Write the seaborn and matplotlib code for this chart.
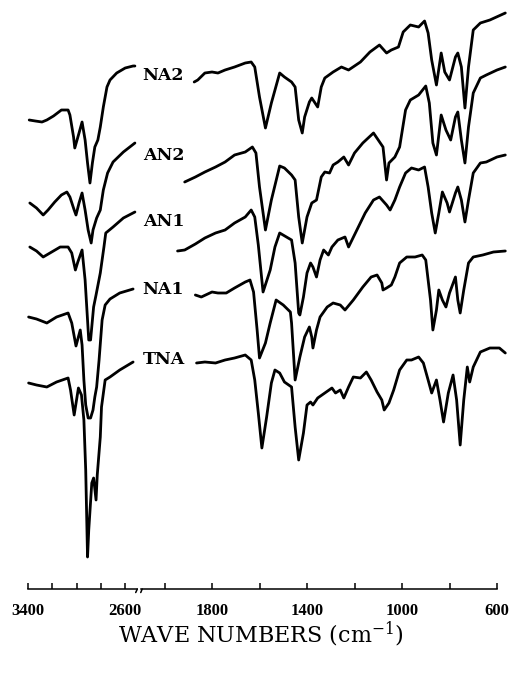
import matplotlib
matplotlib.use("Agg")
import matplotlib.pyplot as plt
import pandas as pd
import seaborn as sns

# Stacked IR spectra (transmittance, arbitrary offset units), top to bottom
samples = ["NA2", "AN2", "AN1", "NA1", "TNA"]
label_level = [514, 434, 367, 299, 229]

# ---- C-H stretching region (3400-2500 cm-1) ----
na2_ch_wn = [3390, 3340, 3285, 3245, 3190, 3125, 3070, 3055, 3025, 3015, 2980, 2955, 2930,
             2910, 2890, 2870, 2850, 2825, 2805, 2780, 2750, 2725, 2670, 2600, 2535, 2520]
na2_ch_t = [469, 468, 467, 469, 473, 479, 479, 474, 452, 441, 456, 467, 449,
            426, 406, 426, 442, 449, 462, 482, 502, 509, 516, 521, 523, 523]

an2_ch_wn = [3385, 3330, 3275, 3235, 3180, 3125, 3080, 3055, 3020, 3005, 2980, 2955,
             2930, 2905, 2880, 2865, 2835, 2805, 2780, 2745, 2700, 2615, 2520]
an2_ch_t = [386, 381, 374, 379, 387, 394, 397, 392, 379, 374, 386, 396,
            379, 359, 346, 359, 371, 379, 399, 416, 427, 437, 446]

an1_ch_wn = [3385, 3330, 3275, 3205, 3135, 3070, 3040, 3010, 2990, 2955, 2930,
             2900, 2885, 2860, 2840, 2805, 2775, 2760, 2700, 2615, 2520]
an1_ch_t = [342, 338, 332, 337, 342, 342, 336, 319, 327, 339, 309,
            249, 249, 282, 294, 316, 342, 356, 362, 371, 377]

na1_ch_wn = [3395, 3330, 3245, 3165, 3070, 3040, 3005, 2970, 2955, 2940, 2925,
             2905, 2885, 2865, 2850, 2835, 2815, 2790, 2765, 2725, 2645, 2535]
na1_ch_t = [272, 270, 266, 272, 276, 266, 243, 259, 244, 209, 184,
            171, 171, 179, 192, 202, 229, 269, 284, 290, 296, 300]

tna_ch_wn = [3395, 3330, 3245, 3165, 3070, 3050, 3020, 2985, 2960, 2940, 2925, 2910,
             2900, 2875, 2860, 2840, 2830, 2805, 2795, 2765, 2725, 2645, 2535]
tna_ch_t = [206, 204, 202, 207, 211, 199, 174, 201, 194, 169, 119, 32,
            59, 106, 111, 89, 114, 152, 182, 209, 212, 219, 227]

# ---- fingerprint region (2100-600 cm-1) ----
na2_fp_wn = [1875, 1860, 1830, 1800, 1775, 1745, 1705, 1660, 1635, 1620,
             1600, 1575, 1550, 1515, 1495, 1465, 1450, 1435, 1420, 1410,
             1390, 1380, 1355, 1340, 1325, 1290, 1255, 1225, 1175, 1135,
             1095, 1065, 1045, 1015, 995, 965, 930, 905, 890, 875,
             855, 835, 820, 800, 775, 765, 750, 735, 720, 700,
             670, 630, 565]
na2_fp_t = [507, 509, 516, 517, 516, 519, 522, 526, 527, 522,
            492, 461, 486, 516, 512, 507, 502, 469, 456, 472,
            487, 491, 482, 502, 511, 517, 522, 519, 527, 537,
            544, 536, 539, 542, 557, 564, 562, 568, 556, 529,
            504, 536, 517, 509, 532, 536, 522, 481, 522, 559,
            566, 569, 576]

an2_fp_wn = [1915, 1870, 1830, 1785, 1745, 1705, 1660, 1630, 1615, 1600,
             1575, 1550, 1515, 1495, 1465, 1450, 1435, 1420, 1400, 1380,
             1360, 1340, 1325, 1305, 1290, 1270, 1245, 1225, 1200, 1165,
             1120, 1100, 1080, 1065, 1055, 1030, 1010, 985, 965, 930,
             900, 885, 870, 855, 835, 815, 795, 775, 765, 750,
             735, 720, 700, 670, 645, 600, 565]
an2_fp_t = [407, 412, 417, 422, 427, 434, 437, 442, 436, 402,
            359, 389, 423, 421, 414, 409, 372, 346, 372, 386,
            389, 412, 417, 416, 424, 427, 432, 424, 436, 446,
            456, 449, 442, 409, 426, 432, 442, 479, 489, 494,
            503, 486, 446, 434, 474, 459, 449, 472, 477, 449,
            426, 462, 496, 511, 514, 519, 522]

an1_fp_wn = [1945, 1915, 1870, 1830, 1785, 1745, 1705, 1660, 1635, 1620,
             1605, 1585, 1555, 1535, 1515, 1465, 1450, 1435, 1430, 1415,
             1400, 1385, 1375, 1360, 1345, 1330, 1310, 1295, 1270, 1240,
             1225, 1190, 1155, 1120, 1095, 1065, 1050, 1030, 1010, 985,
             960, 930, 905, 890, 875, 860, 845, 830, 810, 800,
             775, 765, 750, 735, 720, 700, 670, 645, 600, 565]
an1_fp_t = [338, 339, 345, 351, 356, 359, 366, 372, 379, 372,
            344, 297, 319, 342, 356, 349, 326, 276, 274, 292,
            316, 326, 322, 312, 329, 339, 334, 342, 349, 352,
            342, 359, 376, 389, 392, 384, 379, 389, 402, 416,
            421, 419, 422, 402, 376, 356, 376, 397, 386, 377,
            396, 402, 389, 367, 389, 416, 426, 427, 432, 434]

na1_fp_wn = [1870, 1845, 1800, 1775, 1740, 1705, 1660, 1640, 1625, 1610,
             1600, 1575, 1555, 1530, 1500, 1470, 1465, 1450, 1430, 1410,
             1390, 1380, 1375, 1360, 1345, 1315, 1290, 1260, 1240, 1205,
             1165, 1130, 1105, 1085, 1080, 1065, 1045, 1030, 1010, 980,
             945, 915, 900, 880, 870, 855, 845, 830, 815, 800,
             775, 765, 755, 740, 720, 700, 660, 615, 565]
na1_fp_t = [294, 292, 297, 296, 296, 301, 307, 309, 297, 259,
            231, 246, 266, 289, 284, 277, 266, 209, 232, 252,
            262, 252, 241, 259, 272, 282, 286, 284, 279, 289,
            302, 312, 314, 306, 299, 301, 304, 312, 326, 332,
            332, 334, 329, 289, 259, 279, 299, 289, 282, 296,
            312, 289, 276, 299, 326, 332, 334, 337, 338]

tna_fp_wn = [1865, 1830, 1785, 1745, 1705, 1660, 1635, 1620, 1605, 1590,
             1570, 1550, 1535, 1515, 1495, 1465, 1450, 1435, 1415, 1400,
             1385, 1375, 1355, 1325, 1295, 1280, 1260, 1245, 1225, 1205,
             1175, 1150, 1130, 1105, 1085, 1075, 1055, 1035, 1010, 980,
             960, 930, 910, 890, 875, 855, 840, 825, 805, 785,
             770, 755, 740, 725, 715, 700, 670, 630, 590, 565]
tna_fp_t = [226, 227, 226, 229, 231, 234, 229, 209, 176, 141,
            172, 206, 219, 216, 207, 202, 162, 129, 156, 184,
            187, 184, 191, 196, 201, 196, 199, 191, 202, 212,
            211, 217, 209, 197, 189, 179, 186, 199, 219, 229,
            229, 232, 226, 209, 196, 209, 189, 167, 196, 214,
            189, 144, 189, 222, 207, 222, 237, 241, 241, 236]

ch_ticks = [3400, 3200, 3000, 2800, 2600]
ch_ticklabels = ["3400", "", "", "", "2600"]
fp_ticks = [2000, 1800, 1600, 1400, 1200, 1000, 800, 600]
fp_ticklabels = ["", "1800", "", "1400", "", "1000", "", "600"]

ch = {"NA2": (na2_ch_wn, na2_ch_t), "AN2": (an2_ch_wn, an2_ch_t), "AN1": (an1_ch_wn, an1_ch_t),
      "NA1": (na1_ch_wn, na1_ch_t), "TNA": (tna_ch_wn, tna_ch_t)}
fp = {"NA2": (na2_fp_wn, na2_fp_t), "AN2": (an2_fp_wn, an2_fp_t), "AN1": (an1_fp_wn, an1_fp_t),
      "NA1": (na1_fp_wn, na1_fp_t), "TNA": (tna_fp_wn, tna_fp_t)}

frames = []
for region, table in (("ch", ch), ("fp", fp)):
    for name in samples:
        wn, t = table[name]
        frames.append(pd.DataFrame({"wavenumber": wn, "signal": t,
                                    "sample": name, "region": region}))
df = pd.concat(frames, ignore_index=True)

sns.set_theme(style="white")
plt.rcParams["mathtext.fontset"] = "dejavuserif"

W, H = 511, 675
fig = plt.figure(figsize=(W / 100, H / 100), dpi=100)
ax_l = fig.add_axes([28 / W, 86 / H, 109.35 / W, 589 / H])
ax_r = fig.add_axes([140.75 / W, 86 / H, 356.25 / W, 589 / H])

black = {s: "black" for s in samples}
for ax, region in ((ax_l, "ch"), (ax_r, "fp")):
    sub = df[df["region"] == region]
    sns.lineplot(data=sub, x="wavenumber", y="signal", hue="sample", palette=black,
                 estimator=None, sort=False, linewidth=2.0, legend=False, ax=ax)
    for ln in ax.lines:
        ln.set_clip_on(False)
        ln.set_solid_joinstyle("round")
    ax.set_ylim(0, 589)
    ax.set_xlabel("")
    ax.set_ylabel("")
    ax.set_yticks([])
    for side in ("top", "left", "right"):
        ax.spines[side].set_visible(False)
    ax.spines["bottom"].set_linewidth(1.1)
    ax.spines["bottom"].set_color("black")
    ax.tick_params(axis="x", direction="in", length=4, width=1.1, pad=10,
                   colors="black", bottom=True)
    ax.set_facecolor("none")

ax_l.set_xlim(3400, 2500)
ax_r.set_xlim(2100, 600)
ax_l.set_xticks(ch_ticks, ch_ticklabels)
ax_r.set_xticks(fp_ticks, fp_ticklabels)
for ax in (ax_l, ax_r):
    for lab in ax.get_xticklabels():
        lab.set_fontfamily("Liberation Serif")
        lab.set_fontweight("bold")
        lab.set_fontsize(12)

# axis break marks
ax_l.plot([1.0, 0.985], [0.0, -0.006], transform=ax_l.transAxes, color="black",
          lw=1.1, clip_on=False)
ax_r.plot([0.004, 0.0], [0.0, -0.006], transform=ax_r.transAxes, color="black",
          lw=1.1, clip_on=False)

# sample names sit between the two spectral regions
for name, level in zip(samples, label_level):
    ax_r.text(2092, level, name, ha="left", va="center", fontsize=12.5,
              fontweight="bold", family="DejaVu Serif", color="black", clip_on=False)

fig.text(261 / W, 41 / H, r"WAVE NUMBERS (cm$^{-1}$)", ha="center", va="center",
         fontsize=16, family="DejaVu Serif", color="black")

fig.savefig("out.png", dpi=100, facecolor="white")
